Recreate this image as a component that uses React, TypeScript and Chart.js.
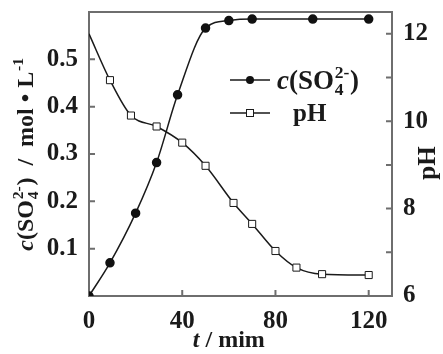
import React, { useEffect, useRef } from "react";
import { Chart, registerables } from "chart.js";

Chart.register(...registerables);

// ---- data ----
const tSO4 = [0, 9, 20, 29, 38, 50, 60, 70, 96, 120];
const cSO4 = [0, 0.07, 0.175, 0.282, 0.425, 0.566, 0.582, 0.585, 0.585, 0.585];

const tPH = [0, 9, 18, 29, 40, 50, 62, 70, 80, 89, 100, 120];
const pHValues = [12.0, 10.94, 10.13, 9.88, 9.51, 8.98, 8.13, 7.65, 7.03, 6.65, 6.5, 6.48];

const xTickLabels = [0, 40, 80, 120];
const leftTickLabels = [0.1, 0.2, 0.3, 0.4, 0.5];
const rightTickLabels = [6, 8, 10, 12];
const rightMinorTicks = [7, 8, 9, 10, 11, 12];

const FONT = '"Liberation Serif", "Times New Roman", serif';
const INK = "#1a1a1a";
const FRAME = "#6e6e6e";

type Seg = { t?: string; it?: boolean; sup?: string; sub?: string };

function segFont(size: number, it?: boolean, bold = true) {
  return `${it ? "italic " : ""}${bold ? "bold " : ""}${size}px ${FONT}`;
}

const SS = 0.65;

function measureRich(ctx: CanvasRenderingContext2D, segs: Seg[], size: number) {
  let w = 0;
  for (const s of segs) {
    if (s.t !== undefined) {
      ctx.font = segFont(size, s.it);
      w += ctx.measureText(s.t).width;
    } else {
      ctx.font = segFont(size * SS, false);
      const a = s.sup ? ctx.measureText(s.sup).width : 0;
      const b = s.sub ? ctx.measureText(s.sub).width : 0;
      w += Math.max(a, b) + 1.5;
    }
  }
  return w;
}

function drawRich(
  ctx: CanvasRenderingContext2D,
  segs: Seg[],
  x: number,
  y: number,
  size: number,
  align: "left" | "center"
) {
  const w = measureRich(ctx, segs, size);
  let cx = align === "center" ? x - w / 2 : x;
  ctx.textBaseline = "alphabetic";
  ctx.textAlign = "left";
  for (const s of segs) {
    if (s.t !== undefined) {
      ctx.font = segFont(size, s.it);
      ctx.fillText(s.t, cx, y);
      cx += ctx.measureText(s.t).width;
    } else {
      ctx.font = segFont(size * SS, false);
      const a = s.sup ? ctx.measureText(s.sup).width : 0;
      const b = s.sub ? ctx.measureText(s.sub).width : 0;
      if (s.sup) ctx.fillText(s.sup, cx + 0.75, y - size * 0.4);
      if (s.sub) ctx.fillText(s.sub, cx + 0.75, y + size * 0.22);
      cx += Math.max(a, b) + 1.5;
    }
  }
}

const leftTitle: Seg[] = [
  { t: "c", it: true },
  { t: "(SO" },
  { sup: "2-", sub: "4" },
  { t: ")  /  mol • L" },
  { sup: "-1" },
];
const legendSO4: Seg[] = [{ t: "c", it: true }, { t: "(SO" }, { sup: "2-", sub: "4" }, { t: ")" }];

const decorPlugin = {
  id: "decor",
  beforeDatasetsDraw(chart: any) {
    const { ctx, chartArea: a, scales } = chart;
    ctx.save();
    ctx.strokeStyle = FRAME;
    ctx.lineWidth = 2;
    ctx.strokeRect(a.left, a.top, a.right - a.left, a.bottom - a.top);
    ctx.beginPath();
    for (const v of xTickLabels) {
      if (v === 0) continue;
      const px = scales.x.getPixelForValue(v);
      ctx.moveTo(px, a.bottom);
      ctx.lineTo(px, a.bottom - 6);
    }
    for (const v of leftTickLabels) {
      const py = scales.y.getPixelForValue(v);
      ctx.moveTo(a.left, py);
      ctx.lineTo(a.left + 6, py);
    }
    for (const v of rightMinorTicks) {
      const py = scales.y1.getPixelForValue(v);
      ctx.moveTo(a.right, py);
      ctx.lineTo(a.right - 6, py);
    }
    ctx.stroke();
    ctx.restore();
  },
  afterDraw(chart: any) {
    const { ctx, chartArea: a, scales } = chart;
    ctx.save();
    ctx.fillStyle = INK;

    // left axis title (rotated)
    ctx.save();
    ctx.translate(33, (a.top + a.bottom) / 2);
    ctx.rotate(-Math.PI / 2);
    drawRich(ctx, leftTitle, 0, 0, 24, "center");
    ctx.restore();

    // right axis title
    ctx.save();
    ctx.translate(435, (a.top + a.bottom) / 2 + 9);
    ctx.rotate(-Math.PI / 2);
    drawRich(ctx, [{ t: "pH" }], 0, 0, 25, "center");
    ctx.restore();

    // x axis title
    const xc = scales.x.getPixelForValue(60);
    drawRich(ctx, [{ t: "t", it: true }, { t: " / mim" }], xc, 347, 24, "center");

    // legend
    const lx0 = a.left + 141;
    const lx1 = a.left + 181;
    const lm = (lx0 + lx1) / 2;
    const ly1 = a.top + 68;
    const ly2 = a.top + 101;
    ctx.strokeStyle = INK;
    ctx.lineWidth = 1.5;
    ctx.beginPath();
    ctx.moveTo(lx0, ly1);
    ctx.lineTo(lx1, ly1);
    ctx.moveTo(lx0, ly2);
    ctx.lineTo(lx1, ly2);
    ctx.stroke();
    ctx.beginPath();
    ctx.arc(lm, ly1, 4, 0, Math.PI * 2);
    ctx.fillStyle = "#111";
    ctx.fill();
    ctx.fillStyle = "#fff";
    ctx.lineWidth = 1;
    ctx.fillRect(lm - 3.5, ly2 - 3.5, 7, 7);
    ctx.strokeRect(lm - 3.5, ly2 - 3.5, 7, 7);
    ctx.fillStyle = INK;
    drawRich(ctx, legendSO4, lx1 + 7, ly1 + 9, 27, "left");
    drawRich(ctx, [{ t: "pH" }], lx1 + 23, ly2 + 8, 25, "left");
    ctx.restore();
  },
};

export default function App() {
  const ref = useRef<HTMLCanvasElement | null>(null);

  useEffect(() => {
    if (!ref.current) return;
    const tickFont = { family: FONT, size: 25, weight: "bold" as const };
    const chart = new Chart(ref.current, {
      type: "line",
      data: {
        datasets: [
          {
            label: "c(SO4 2-)",
            data: tSO4.map((t, i) => ({ x: t, y: cSO4[i] })),
            yAxisID: "y",
            borderColor: INK,
            borderWidth: 1.5,
            pointStyle: "circle",
            pointRadius: 4,
            pointBackgroundColor: "#111",
            pointBorderColor: "#111",
            cubicInterpolationMode: "monotone",
          },
          {
            label: "pH",
            data: tPH.map((t, i) => ({ x: t, y: pHValues[i] })),
            yAxisID: "y1",
            borderColor: INK,
            borderWidth: 1.5,
            pointStyle: "rect",
            pointRadius: tPH.map((_, i) => (i === 0 ? 0 : 5)),
            pointBackgroundColor: "#fff",
            pointBorderColor: INK,
            pointBorderWidth: 1,
            cubicInterpolationMode: "monotone",
          },
        ],
      },
      options: {
        animation: false,
        responsive: true,
        maintainAspectRatio: false,
        layout: { padding: { top: 12, left: 0, right: 0, bottom: 0 } },
        plugins: { legend: { display: false }, tooltip: { enabled: false } },
        scales: {
          x: {
            type: "linear",
            min: 0,
            max: 130,
            grid: { display: false },
            border: { display: false },
            ticks: {
              autoSkip: false,
              maxRotation: 0,
              padding: 3,
              color: INK,
              font: tickFont,
              callback: (v: any) => String(v),
            },
            afterBuildTicks: (s: any) => {
              s.ticks = xTickLabels.map((v) => ({ value: v }));
            },
            afterFit: (s: any) => {
              s.height = 58;
              s.paddingLeft = 0;
              s.paddingRight = 0;
            },
          },
          y: {
            type: "linear",
            position: "left",
            min: 0,
            max: 0.6,
            grid: { display: false },
            border: { display: false },
            ticks: {
              autoSkip: false,
              padding: 3,
              color: INK,
              font: tickFont,
              callback: (v: any) => Number(v).toFixed(1),
            },
            afterBuildTicks: (s: any) => {
              s.ticks = leftTickLabels.map((v) => ({ value: v }));
            },
            afterFit: (s: any) => {
              s.width = 89;
              s.paddingTop = 0;
              s.paddingBottom = 0;
            },
          },
          y1: {
            type: "linear",
            position: "right",
            min: 6,
            max: 12.5,
            grid: { display: false },
            border: { display: false },
            ticks: {
              autoSkip: false,
              padding: 3,
              color: INK,
              font: tickFont,
              callback: (v: any) => String(v),
            },
            afterBuildTicks: (s: any) => {
              s.ticks = rightTickLabels.map((v) => ({ value: v }));
            },
            afterFit: (s: any) => {
              s.width = 51;
              s.paddingTop = 0;
              s.paddingBottom = 0;
            },
          },
        },
      },
      plugins: [decorPlugin],
    });
    return () => chart.destroy();
  }, []);

  return (
    <div style={{ position: "fixed", left: 0, top: 0, width: 443, height: 354, background: "#fff" }}>
      <canvas ref={ref} />
    </div>
  );
}
